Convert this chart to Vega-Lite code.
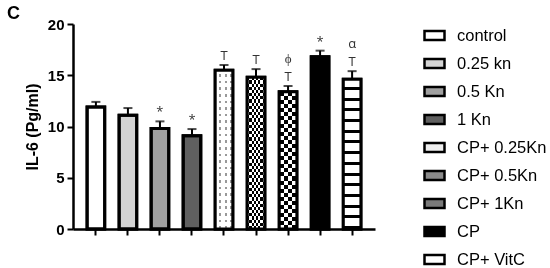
{
  "$schema": "https://vega.github.io/schema/vega-lite/v6.json",
  "width": 302,
  "height": 205,
  "autosize": "none",
  "padding": {"left": 73, "top": 24, "right": 175, "bottom": 39},
  "background": "white",
  "title": {"text": "C", "anchor": "start", "frame": "group", "fontSize": 18, "fontWeight": "bold", "font": "Liberation Sans", "dx": -66, "dy": 6, "offset": 0, "color": "black"},
  "config": {
    "view": {"stroke": null},
    "axisY": {"grid": false, "domainColor": "black", "domainWidth": 2.5, "tickColor": "black", "tickWidth": 2, "tickSize": 6,
      "labelFont": "Liberation Sans", "labelFontSize": 15, "labelFontWeight": "bold", "labelColor": "black", "labelPadding": 3,
      "titleFont": "Liberation Sans", "titleFontSize": 16, "titleFontWeight": "bold", "titleColor": "black", "titlePadding": 7},
    "axisX": {"domainColor": "black", "domainWidth": 2.5, "tickColor": "black", "tickWidth": 2, "tickSize": 6, "labels": false}
  },
  "data": {"values": [
    {"group": "control", "value": 11.9, "upper": 12.4, "ann": "", "ann2": ""},
    {"group": "0.25 kn", "value": 11.1, "upper": 11.8, "ann": "", "ann2": ""},
    {"group": "0.5 Kn", "value": 9.8, "upper": 10.5, "ann": "*", "ann2": ""},
    {"group": "1 Kn", "value": 9.1, "upper": 9.75, "ann": "*", "ann2": ""},
    {"group": "CP+ 0.25Kn", "value": 15.5, "upper": 16.0, "ann": "T", "ann2": ""},
    {"group": "CP+ 0.5Kn", "value": 14.8, "upper": 15.6, "ann": "T", "ann2": ""},
    {"group": "CP+ 1Kn", "value": 13.4, "upper": 13.95, "ann": "T", "ann2": "ϕ"},
    {"group": "CP", "value": 16.8, "upper": 17.4, "ann": "*", "ann2": ""},
    {"group": "CP+ VitC", "value": 14.6, "upper": 15.4, "ann": "T", "ann2": "α"}
  ]},
  "encoding": {
    "x": {"field": "group", "type": "nominal", "sort": null,
      "scale": {"paddingInner": 0.45, "paddingOuter": 0.44},
      "axis": {"title": null, "labels": false}}
  },
  "layer": [
    {
      "mark": {"type": "bar", "stroke": "black", "strokeWidth": 3},
      "encoding": {
        "y": {"field": "value", "type": "quantitative", "scale": {"domain": [0, 20], "nice": false},
          "axis": {"title": "IL-6 (Pg/ml)", "values": [0, 5, 10, 15, 20]}},
        "color": {"field": "group", "type": "nominal", "sort": null,
          "scale": {"domain": ["control", "0.25 kn", "0.5 Kn", "1 Kn", "CP+ 0.25Kn", "CP+ 0.5Kn", "CP+ 1Kn", "CP", "CP+ VitC"],
            "range": ["#ffffff", "#d4d4d4", "#a0a0a0", "#606060", "#eeeeee", "#8a8a8a", "#7a7a7a", "#000000", "#ffffff"]},
          "legend": {"title": null, "orient": "none", "legendX": 350, "legendY": 0,
            "symbolType": "M-1,-0.45L1,-0.45L1,0.45L-1,0.45Z", "symbolSize": 400, "symbolStrokeColor": "black", "symbolStrokeWidth": 2.5,
            "labelFont": "Liberation Sans", "labelFontSize": 16.5, "labelColor": "black", "labelOffset": 11, "rowPadding": 7, "padding": 0}}
      }
    },
    {
      "transform": [{"filter": "datum.group === 'CP+ 0.25Kn'"}],
      "mark": {"type": "bar", "fill": {"gradient": "linear", "x1": 0, "y1": 0, "x2": 0, "y2": 1, "stops": [
        {"offset":0,"color":"#fff"},{"offset":0.025,"color":"#fff"},{"offset":0.025,"color":"#999"},{"offset":0.0417,"color":"#999"},
        {"offset":0.0417,"color":"#fff"},{"offset":0.0667,"color":"#fff"},{"offset":0.0667,"color":"#999"},{"offset":0.0833,"color":"#999"},
        {"offset":0.0833,"color":"#fff"},{"offset":0.1083,"color":"#fff"},{"offset":0.1083,"color":"#999"},{"offset":0.125,"color":"#999"},
        {"offset":0.125,"color":"#fff"},{"offset":0.15,"color":"#fff"},{"offset":0.15,"color":"#999"},{"offset":0.1667,"color":"#999"},
        {"offset":0.1667,"color":"#fff"},{"offset":0.1917,"color":"#fff"},{"offset":0.1917,"color":"#999"},{"offset":0.2083,"color":"#999"},
        {"offset":0.2083,"color":"#fff"},{"offset":0.2333,"color":"#fff"},{"offset":0.2333,"color":"#999"},{"offset":0.25,"color":"#999"},
        {"offset":0.25,"color":"#fff"},{"offset":0.275,"color":"#fff"},{"offset":0.275,"color":"#999"},{"offset":0.2917,"color":"#999"},
        {"offset":0.2917,"color":"#fff"},{"offset":0.3167,"color":"#fff"},{"offset":0.3167,"color":"#999"},{"offset":0.3333,"color":"#999"},
        {"offset":0.3333,"color":"#fff"},{"offset":0.3583,"color":"#fff"},{"offset":0.3583,"color":"#999"},{"offset":0.375,"color":"#999"},
        {"offset":0.375,"color":"#fff"},{"offset":0.4,"color":"#fff"},{"offset":0.4,"color":"#999"},{"offset":0.4167,"color":"#999"},
        {"offset":0.4167,"color":"#fff"},{"offset":0.4417,"color":"#fff"},{"offset":0.4417,"color":"#999"},{"offset":0.4583,"color":"#999"},
        {"offset":0.4583,"color":"#fff"},{"offset":0.4833,"color":"#fff"},{"offset":0.4833,"color":"#999"},{"offset":0.5,"color":"#999"},
        {"offset":0.5,"color":"#fff"},{"offset":0.525,"color":"#fff"},{"offset":0.525,"color":"#999"},{"offset":0.5417,"color":"#999"},
        {"offset":0.5417,"color":"#fff"},{"offset":0.5667,"color":"#fff"},{"offset":0.5667,"color":"#999"},{"offset":0.5833,"color":"#999"},
        {"offset":0.5833,"color":"#fff"},{"offset":0.6083,"color":"#fff"},{"offset":0.6083,"color":"#999"},{"offset":0.625,"color":"#999"},
        {"offset":0.625,"color":"#fff"},{"offset":0.65,"color":"#fff"},{"offset":0.65,"color":"#999"},{"offset":0.6667,"color":"#999"},
        {"offset":0.6667,"color":"#fff"},{"offset":0.6917,"color":"#fff"},{"offset":0.6917,"color":"#999"},{"offset":0.7083,"color":"#999"},
        {"offset":0.7083,"color":"#fff"},{"offset":0.7333,"color":"#fff"},{"offset":0.7333,"color":"#999"},{"offset":0.75,"color":"#999"},
        {"offset":0.75,"color":"#fff"},{"offset":0.775,"color":"#fff"},{"offset":0.775,"color":"#999"},{"offset":0.7917,"color":"#999"},
        {"offset":0.7917,"color":"#fff"},{"offset":0.8167,"color":"#fff"},{"offset":0.8167,"color":"#999"},{"offset":0.8333,"color":"#999"},
        {"offset":0.8333,"color":"#fff"},{"offset":0.8583,"color":"#fff"},{"offset":0.8583,"color":"#999"},{"offset":0.875,"color":"#999"},
        {"offset":0.875,"color":"#fff"},{"offset":0.9,"color":"#fff"},{"offset":0.9,"color":"#999"},{"offset":0.9167,"color":"#999"},
        {"offset":0.9167,"color":"#fff"},{"offset":0.9417,"color":"#fff"},{"offset":0.9417,"color":"#999"},{"offset":0.9583,"color":"#999"},
        {"offset":0.9583,"color":"#fff"},{"offset":0.9833,"color":"#fff"},{"offset":0.9833,"color":"#999"},{"offset":1,"color":"#999"}
      ]}},
      "encoding": {"y": {"field": "value", "type": "quantitative"}}
    },
    {
      "transform": [{"filter": "datum.group === 'CP+ 0.25Kn'"}],
      "mark": {"type": "bar", "blend": "lighten", "fill": {"gradient": "linear", "x1": 0, "y1": 0, "x2": 1, "y2": 0, "stops": [
        {"offset":0,"color":"#fff"},{"offset":0.2,"color":"#fff"},{"offset":0.2,"color":"#999"},{"offset":0.3333,"color":"#999"},
        {"offset":0.3333,"color":"#fff"},{"offset":0.5333,"color":"#fff"},{"offset":0.5333,"color":"#999"},{"offset":0.6667,"color":"#999"},
        {"offset":0.6667,"color":"#fff"},{"offset":0.8667,"color":"#fff"},{"offset":0.8667,"color":"#999"},{"offset":1,"color":"#999"}
      ]}},
      "encoding": {"y": {"field": "value", "type": "quantitative"}}
    },
    {
      "transform": [{"filter": "datum.group === 'CP+ 0.5Kn'"}],
      "mark": {"type": "bar", "fill": {"gradient": "linear", "x1": 0, "y1": 0, "x2": 0, "y2": 1, "stops": [
        {"offset":0,"color":"#fff"},{"offset":0.0208,"color":"#fff"},{"offset":0.0208,"color":"#000"},{"offset":0.0417,"color":"#000"},
        {"offset":0.0417,"color":"#fff"},{"offset":0.0625,"color":"#fff"},{"offset":0.0625,"color":"#000"},{"offset":0.0833,"color":"#000"},
        {"offset":0.0833,"color":"#fff"},{"offset":0.1042,"color":"#fff"},{"offset":0.1042,"color":"#000"},{"offset":0.125,"color":"#000"},
        {"offset":0.125,"color":"#fff"},{"offset":0.1458,"color":"#fff"},{"offset":0.1458,"color":"#000"},{"offset":0.1667,"color":"#000"},
        {"offset":0.1667,"color":"#fff"},{"offset":0.1875,"color":"#fff"},{"offset":0.1875,"color":"#000"},{"offset":0.2083,"color":"#000"},
        {"offset":0.2083,"color":"#fff"},{"offset":0.2292,"color":"#fff"},{"offset":0.2292,"color":"#000"},{"offset":0.25,"color":"#000"},
        {"offset":0.25,"color":"#fff"},{"offset":0.2708,"color":"#fff"},{"offset":0.2708,"color":"#000"},{"offset":0.2917,"color":"#000"},
        {"offset":0.2917,"color":"#fff"},{"offset":0.3125,"color":"#fff"},{"offset":0.3125,"color":"#000"},{"offset":0.3333,"color":"#000"},
        {"offset":0.3333,"color":"#fff"},{"offset":0.3542,"color":"#fff"},{"offset":0.3542,"color":"#000"},{"offset":0.375,"color":"#000"},
        {"offset":0.375,"color":"#fff"},{"offset":0.3958,"color":"#fff"},{"offset":0.3958,"color":"#000"},{"offset":0.4167,"color":"#000"},
        {"offset":0.4167,"color":"#fff"},{"offset":0.4375,"color":"#fff"},{"offset":0.4375,"color":"#000"},{"offset":0.4583,"color":"#000"},
        {"offset":0.4583,"color":"#fff"},{"offset":0.4792,"color":"#fff"},{"offset":0.4792,"color":"#000"},{"offset":0.5,"color":"#000"},
        {"offset":0.5,"color":"#fff"},{"offset":0.5208,"color":"#fff"},{"offset":0.5208,"color":"#000"},{"offset":0.5417,"color":"#000"},
        {"offset":0.5417,"color":"#fff"},{"offset":0.5625,"color":"#fff"},{"offset":0.5625,"color":"#000"},{"offset":0.5833,"color":"#000"},
        {"offset":0.5833,"color":"#fff"},{"offset":0.6042,"color":"#fff"},{"offset":0.6042,"color":"#000"},{"offset":0.625,"color":"#000"},
        {"offset":0.625,"color":"#fff"},{"offset":0.6458,"color":"#fff"},{"offset":0.6458,"color":"#000"},{"offset":0.6667,"color":"#000"},
        {"offset":0.6667,"color":"#fff"},{"offset":0.6875,"color":"#fff"},{"offset":0.6875,"color":"#000"},{"offset":0.7083,"color":"#000"},
        {"offset":0.7083,"color":"#fff"},{"offset":0.7292,"color":"#fff"},{"offset":0.7292,"color":"#000"},{"offset":0.75,"color":"#000"},
        {"offset":0.75,"color":"#fff"},{"offset":0.7708,"color":"#fff"},{"offset":0.7708,"color":"#000"},{"offset":0.7917,"color":"#000"},
        {"offset":0.7917,"color":"#fff"},{"offset":0.8125,"color":"#fff"},{"offset":0.8125,"color":"#000"},{"offset":0.8333,"color":"#000"},
        {"offset":0.8333,"color":"#fff"},{"offset":0.8542,"color":"#fff"},{"offset":0.8542,"color":"#000"},{"offset":0.875,"color":"#000"},
        {"offset":0.875,"color":"#fff"},{"offset":0.8958,"color":"#fff"},{"offset":0.8958,"color":"#000"},{"offset":0.9167,"color":"#000"},
        {"offset":0.9167,"color":"#fff"},{"offset":0.9375,"color":"#fff"},{"offset":0.9375,"color":"#000"},{"offset":0.9583,"color":"#000"},
        {"offset":0.9583,"color":"#fff"},{"offset":0.9792,"color":"#fff"},{"offset":0.9792,"color":"#000"},{"offset":1,"color":"#000"}
      ]}},
      "encoding": {"y": {"field": "value", "type": "quantitative"}}
    },
    {
      "transform": [{"filter": "datum.group === 'CP+ 0.5Kn'"}],
      "mark": {"type": "bar", "blend": "difference", "fill": {"gradient": "linear", "x1": 0, "y1": 0, "x2": 1, "y2": 0, "stops": [
        {"offset":0,"color":"#fff"},{"offset":0.125,"color":"#fff"},{"offset":0.125,"color":"#000"},{"offset":0.25,"color":"#000"},
        {"offset":0.25,"color":"#fff"},{"offset":0.375,"color":"#fff"},{"offset":0.375,"color":"#000"},{"offset":0.5,"color":"#000"},
        {"offset":0.5,"color":"#fff"},{"offset":0.625,"color":"#fff"},{"offset":0.625,"color":"#000"},{"offset":0.75,"color":"#000"},
        {"offset":0.75,"color":"#fff"},{"offset":0.875,"color":"#fff"},{"offset":0.875,"color":"#000"},{"offset":1,"color":"#000"}
      ]}},
      "encoding": {"y": {"field": "value", "type": "quantitative"}}
    },
    {
      "transform": [{"filter": "datum.group === 'CP+ 1Kn'"}],
      "mark": {"type": "bar", "fill": {"gradient": "linear", "x1": 0, "y1": 0, "x2": 0, "y2": 1, "stops": [
        {"offset":0,"color":"#fff"},{"offset":0.0294,"color":"#fff"},{"offset":0.0294,"color":"#000"},{"offset":0.0588,"color":"#000"},
        {"offset":0.0588,"color":"#fff"},{"offset":0.0882,"color":"#fff"},{"offset":0.0882,"color":"#000"},{"offset":0.1176,"color":"#000"},
        {"offset":0.1176,"color":"#fff"},{"offset":0.1471,"color":"#fff"},{"offset":0.1471,"color":"#000"},{"offset":0.1765,"color":"#000"},
        {"offset":0.1765,"color":"#fff"},{"offset":0.2059,"color":"#fff"},{"offset":0.2059,"color":"#000"},{"offset":0.2353,"color":"#000"},
        {"offset":0.2353,"color":"#fff"},{"offset":0.2647,"color":"#fff"},{"offset":0.2647,"color":"#000"},{"offset":0.2941,"color":"#000"},
        {"offset":0.2941,"color":"#fff"},{"offset":0.3235,"color":"#fff"},{"offset":0.3235,"color":"#000"},{"offset":0.3529,"color":"#000"},
        {"offset":0.3529,"color":"#fff"},{"offset":0.3824,"color":"#fff"},{"offset":0.3824,"color":"#000"},{"offset":0.4118,"color":"#000"},
        {"offset":0.4118,"color":"#fff"},{"offset":0.4412,"color":"#fff"},{"offset":0.4412,"color":"#000"},{"offset":0.4706,"color":"#000"},
        {"offset":0.4706,"color":"#fff"},{"offset":0.5,"color":"#fff"},{"offset":0.5,"color":"#000"},{"offset":0.5294,"color":"#000"},
        {"offset":0.5294,"color":"#fff"},{"offset":0.5588,"color":"#fff"},{"offset":0.5588,"color":"#000"},{"offset":0.5882,"color":"#000"},
        {"offset":0.5882,"color":"#fff"},{"offset":0.6176,"color":"#fff"},{"offset":0.6176,"color":"#000"},{"offset":0.6471,"color":"#000"},
        {"offset":0.6471,"color":"#fff"},{"offset":0.6765,"color":"#fff"},{"offset":0.6765,"color":"#000"},{"offset":0.7059,"color":"#000"},
        {"offset":0.7059,"color":"#fff"},{"offset":0.7353,"color":"#fff"},{"offset":0.7353,"color":"#000"},{"offset":0.7647,"color":"#000"},
        {"offset":0.7647,"color":"#fff"},{"offset":0.7941,"color":"#fff"},{"offset":0.7941,"color":"#000"},{"offset":0.8235,"color":"#000"},
        {"offset":0.8235,"color":"#fff"},{"offset":0.8529,"color":"#fff"},{"offset":0.8529,"color":"#000"},{"offset":0.8824,"color":"#000"},
        {"offset":0.8824,"color":"#fff"},{"offset":0.9118,"color":"#fff"},{"offset":0.9118,"color":"#000"},{"offset":0.9412,"color":"#000"},
        {"offset":0.9412,"color":"#fff"},{"offset":0.9706,"color":"#fff"},{"offset":0.9706,"color":"#000"},{"offset":1,"color":"#000"}
      ]}},
      "encoding": {"y": {"field": "value", "type": "quantitative"}}
    },
    {
      "transform": [{"filter": "datum.group === 'CP+ 1Kn'"}],
      "mark": {"type": "bar", "blend": "difference", "fill": {"gradient": "linear", "x1": 0, "y1": 0, "x2": 1, "y2": 0, "stops": [
        {"offset":0,"color":"#fff"},{"offset":0.25,"color":"#fff"},{"offset":0.25,"color":"#000"},{"offset":0.5,"color":"#000"},
        {"offset":0.5,"color":"#fff"},{"offset":0.75,"color":"#fff"},{"offset":0.75,"color":"#000"},{"offset":1,"color":"#000"}
      ]}},
      "encoding": {"y": {"field": "value", "type": "quantitative"}}
    },
    {
      "transform": [{"filter": "datum.group === 'CP+ VitC'"}],
      "mark": {"type": "bar", "fill": {"gradient": "linear", "x1": 0, "y1": 0, "x2": 0, "y2": 1, "stops": [
        {"offset":0,"color":"#fff"},{"offset":0.0514,"color":"#fff"},{"offset":0.0514,"color":"#000"},{"offset":0.0714,"color":"#000"},
        {"offset":0.0714,"color":"#fff"},{"offset":0.1229,"color":"#fff"},{"offset":0.1229,"color":"#000"},{"offset":0.1429,"color":"#000"},
        {"offset":0.1429,"color":"#fff"},{"offset":0.1943,"color":"#fff"},{"offset":0.1943,"color":"#000"},{"offset":0.2143,"color":"#000"},
        {"offset":0.2143,"color":"#fff"},{"offset":0.2657,"color":"#fff"},{"offset":0.2657,"color":"#000"},{"offset":0.2857,"color":"#000"},
        {"offset":0.2857,"color":"#fff"},{"offset":0.3371,"color":"#fff"},{"offset":0.3371,"color":"#000"},{"offset":0.3571,"color":"#000"},
        {"offset":0.3571,"color":"#fff"},{"offset":0.4086,"color":"#fff"},{"offset":0.4086,"color":"#000"},{"offset":0.4286,"color":"#000"},
        {"offset":0.4286,"color":"#fff"},{"offset":0.48,"color":"#fff"},{"offset":0.48,"color":"#000"},{"offset":0.5,"color":"#000"},
        {"offset":0.5,"color":"#fff"},{"offset":0.5514,"color":"#fff"},{"offset":0.5514,"color":"#000"},{"offset":0.5714,"color":"#000"},
        {"offset":0.5714,"color":"#fff"},{"offset":0.6229,"color":"#fff"},{"offset":0.6229,"color":"#000"},{"offset":0.6429,"color":"#000"},
        {"offset":0.6429,"color":"#fff"},{"offset":0.6943,"color":"#fff"},{"offset":0.6943,"color":"#000"},{"offset":0.7143,"color":"#000"},
        {"offset":0.7143,"color":"#fff"},{"offset":0.7657,"color":"#fff"},{"offset":0.7657,"color":"#000"},{"offset":0.7857,"color":"#000"},
        {"offset":0.7857,"color":"#fff"},{"offset":0.8371,"color":"#fff"},{"offset":0.8371,"color":"#000"},{"offset":0.8571,"color":"#000"},
        {"offset":0.8571,"color":"#fff"},{"offset":0.9086,"color":"#fff"},{"offset":0.9086,"color":"#000"},{"offset":0.9286,"color":"#000"},
        {"offset":0.9286,"color":"#fff"},{"offset":0.98,"color":"#fff"},{"offset":0.98,"color":"#000"},{"offset":1,"color":"#000"}
      ]}},
      "encoding": {"y": {"field": "value", "type": "quantitative"}}
    },
    {
      "mark": {"type": "bar", "fillOpacity": 0, "stroke": "black", "strokeWidth": 3},
      "encoding": {"y": {"field": "value", "type": "quantitative"}}
    },
    {
      "mark": {"type": "rule", "color": "black", "strokeWidth": 2},
      "encoding": {"y": {"field": "value", "type": "quantitative"}, "y2": {"field": "upper"}}
    },
    {
      "mark": {"type": "tick", "color": "black", "thickness": 2, "size": 9, "orient": "horizontal"},
      "encoding": {"y": {"field": "upper", "type": "quantitative"}}
    },
    {
      "mark": {"type": "text", "font": "Open Sans", "fontSize": 13, "color": "#333", "baseline": "bottom", "dy": -2},
      "encoding": {"y": {"field": "upper", "type": "quantitative"}, "text": {"field": "ann"}}
    },
    {
      "mark": {"type": "text", "font": "Open Sans", "fontSize": 13, "color": "#333", "baseline": "bottom", "dy": -20},
      "encoding": {"y": {"field": "upper", "type": "quantitative"}, "text": {"field": "ann2"}}
    }
  ]
}
